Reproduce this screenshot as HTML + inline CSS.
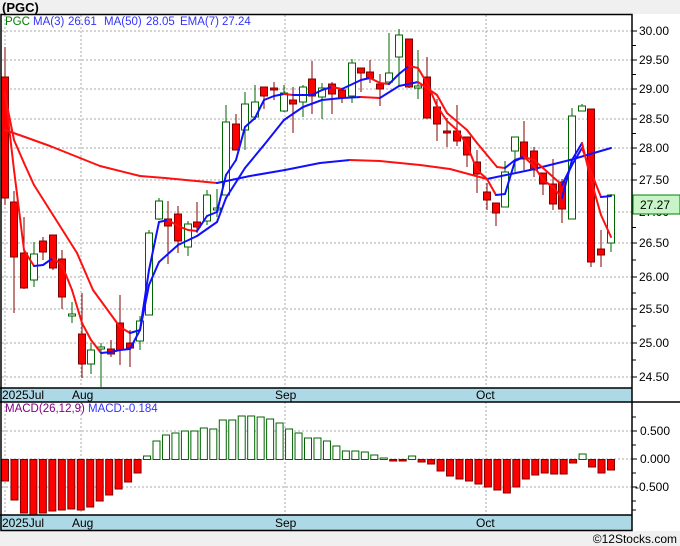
<!DOCTYPE html>
<html><head><meta charset="utf-8"><style>
body{margin:0;background:#f0f0f0;width:680px;height:546px;overflow:hidden;font-family:"Liberation Sans",sans-serif}
svg{position:absolute;left:0;top:0}
</style></head><body>
<svg id="s" width="680" height="546" xmlns="http://www.w3.org/2000/svg" font-family="Liberation Sans, sans-serif">
<rect x="0" y="0" width="680" height="546" fill="#f0f0f0"/>
<rect x="0" y="14" width="680" height="517" fill="#fff"/>
<text x="2" y="12" font-size="13" font-weight="bold" fill="#000">(PGC)</text>
<g id="grid" stroke="#aaa" stroke-dasharray="2,2" stroke-width="1"></g>
<rect x="0" y="388" width="632" height="14" fill="#add8e6"/>
<rect x="0" y="515" width="632" height="15" fill="#add8e6"/>
<g id="plot"></g>
<g stroke="#000" stroke-width="1.5" fill="none">
<rect x="1" y="14.5" width="631" height="516"/>
<line x1="0" y1="388" x2="632" y2="388"/><line x1="0" y1="402" x2="680" y2="402"/>
<line x1="0" y1="515" x2="632" y2="515"/>
</g>
<g font-size="12" fill="#000">
<text x="2" y="399">2025Jul</text><text x="72" y="399">Aug</text><text x="275" y="399">Sep</text><text x="476" y="399">Oct</text>
<text x="2" y="527">2025Jul</text><text x="72" y="527">Aug</text><text x="275" y="527">Sep</text><text x="476" y="527">Oct</text>
</g>
<g font-size="11.5" fill="#3333ff">
<text x="5" y="25" fill="#008000">PGC</text>
<text x="33" y="25">MA(3)</text><text x="68" y="25">26.61</text>
<text x="104" y="25">MA(50)</text><text x="146" y="25">28.05</text>
<text x="180" y="25">EMA(7)</text><text x="222" y="25">27.24</text>
<text x="5" y="412" fill="#800080">MACD(26,12,9)</text>
<text x="88" y="412">MACD:-0.184</text>
</g>
<g id="axis" font-size="12" fill="#000"></g>
<rect x="633" y="195" width="47" height="19" fill="#c8f5c8" stroke="#008000"/>
<text x="640" y="209" font-size="12" fill="#000">27.27</text>
<text x="677" y="543" font-size="12" text-anchor="end" fill="#000">©12Stocks.com</text>
</svg>
<script>
var NS="http://www.w3.org/2000/svg";
function el(p,t,a){var e=document.createElementNS(NS,t);for(var k in a)e.setAttribute(k,a[k]);p.appendChild(e);return e;}
var grid=document.getElementById('grid'),plot=document.getElementById('plot'),ax=document.getElementById('axis');
var pl=[[31,'30.00'],[60,'29.50'],[89,'29.00'],[119,'28.50'],[148,'28.00'],[180,'27.50'],[212,'27.00'],[243,'26.50'],[277,'26.00'],[309,'25.50'],[343,'25.00'],[377,'24.50']];
pl.forEach(function(p){el(grid,'line',{x1:2,y1:p[0],x2:632,y2:p[0]});el(ax,'line',{x1:632,y1:p[0],x2:637,y2:p[0],stroke:'#000'});var t=el(ax,'text',{x:639,y:p[0]+4});t.textContent=p[1];});
for(var i=0;i<pl.length-1;i++){var m=(pl[i][0]+pl[i+1][0])/2;el(ax,'line',{x1:632,y1:m,x2:636,y2:m,stroke:'#000'});}
[[431,'0.500'],[459,'0.000'],[487,'-0.500']].forEach(function(p){el(grid,'line',{x1:2,y1:p[0],x2:632,y2:p[0]});el(ax,'line',{x1:632,y1:p[0],x2:637,y2:p[0],stroke:'#000'});var t=el(ax,'text',{x:p[1][0]=='-'?635:640,y:p[0]+4});t.textContent=p[1];});
[417,445,473,501,510].forEach(function(y){el(ax,'line',{x1:632,y1:y,x2:636,y2:y,stroke:'#000'});});
[5,81,285,486].forEach(function(x){el(grid,'line',{x1:x,y1:15,x2:x,y2:388});el(grid,'line',{x1:x,y1:402,x2:x,y2:515});});
var C=[[5,77,198,47,205,0],[14,202,257,191,313,0],[24,253,288,217,289,0],[34,254,280,242,287,1],[43,241,252,237,260,0],[53,235,268,235,270,0],[62,259,297,250,309,0],[72,314,316,302,323,1],[82,334,364,293,378,0],[91,350,364,343,374,1],[101,347,349,343,387,1],[111,349,354,340,357,0],[120,323,350,295,365,0],[130,343,348,330,367,0],[140,321,341,316,350,1],[149,233,315,230,315,1],[159,201,219,198,220,1],[168,219,226,201,264,0],[178,214,241,206,253,0],[188,224,247,221,256,1],[197,222,227,202,233,0],[207,195,221,190,225,1],[217,208,210,189,217,1],[226,122,195,105,195,1],[236,124,150,114,150,0],[245,104,130,92,150,1],[255,102,117,85,120,1],[264,87,96,87,109,0],[274,88,90,82,100,0],[284,93,111,85,112,1],[293,100,104,87,133,0],[303,87,102,85,117,1],[312,79,96,61,114,0],[322,88,97,83,119,1],[332,84,94,82,114,0],[342,90,98,89,103,0],[352,63,96,59,103,1],[361,68,73,68,92,0],[370,72,78,60,83,0],[380,84,89,74,106,0],[389,73,82,33,82,1],[399,35,57,29,85,1],[409,39,87,39,88,0],[418,86,88,50,99,1],[427,77,118,57,118,0],[437,107,124,99,141,0],[447,131,133,118,147,0],[457,131,141,105,146,0],[467,137,155,137,167,0],[477,162,174,150,193,0],[487,192,200,183,210,0],[496,203,213,203,226,0],[505,172,207,161,207,1],[515,137,151,137,172,1],[524,142,159,121,170,0],[534,151,170,147,177,0],[543,173,184,173,195,0],[553,184,204,159,210,0],[562,182,209,179,223,0],[572,116,219,108,219,1],[582,106,111,104,111,1],[591,109,262,109,267,0],[601,249,255,230,267,0],[611,195,243,194,252,1]];
C.forEach(function(c){var col=c[5]?'#006400':'#800000';
el(plot,'line',{x1:c[0],y1:c[3],x2:c[0],y2:c[4],stroke:col,'stroke-width':1});
var h=Math.max(c[2]-c[1],1);
el(plot,'rect',{x:c[0]-3.5,y:c[1],width:7,height:h,fill:c[5]?'#fff':'#f00',stroke:col,'stroke-width':1});});
function line(pts){for(var i=1;i<pts.length;i++){var a=pts[i-1],b=pts[i];el(plot,'line',{x1:a[0],y1:a[1],x2:b[0],y2:b[1],stroke:b[1]<=a[1]?'#1010ff':'#ff1010','stroke-width':2,'stroke-linecap':'round'});}}
line([[5,130],[25,137],[50,146],[80,158],[100,166],[140,176],[165,178],[217,183],[250,176],[285,170],[320,163],[350,160],[380,161],[420,165],[450,169],[487,179],[530,170],[570,160],[611,148]]);
line([[5,95],[14,140],[24,163],[34,185],[53,215],[77,253],[93,290],[120,327],[130,333],[140,330],[149,285],[159,262],[178,245],[197,236],[217,222],[226,198],[245,168],[264,145],[284,120],[303,107],[322,100],[342,98],[361,97],[380,98],[399,86],[418,82],[437,95],[447,113],[467,130],[477,143],[497,167],[505,168],[515,160],[524,157],[534,160],[543,168],[562,185],[572,165],[582,148],[591,172],[601,197],[611,196]]);
line([[5,92],[14,170],[24,250],[34,266],[43,265],[53,258],[62,265],[72,290],[82,323],[91,340],[101,353],[111,352],[120,350],[130,349],[140,330],[149,270],[159,222],[168,220],[178,226],[188,230],[197,231],[207,216],[217,212],[226,175],[236,160],[245,127],[255,118],[264,100],[274,96],[284,94],[293,95],[303,95],[312,95],[322,90],[332,87],[342,89],[361,80],[370,78],[380,83],[389,84],[399,74],[409,66],[418,68],[428,85],[437,106],[447,121],[457,130],[467,145],[477,170],[487,179],[496,195],[505,194],[515,161],[524,157],[534,166],[543,180],[553,187],[562,198],[572,160],[582,143],[591,180],[601,215],[611,237]]);
var M=[481,500,513,515,513,511,510,509,510,507,501,495,489,482,473,456,441,435,433,431,431,428,429,420,420,416,416,417,419,423,429,433,438,438,441,446,451,451,452,455,458,461,461,456,462,464,471,476,479,481,484,487,490,493,487,479,475,473,474,474,463,454,467,473,470];
var z=459.5,n=M.length;
M.forEach(function(v,i){var x=5+i*(606/(n-1));var g=v<z;
var y=Math.min(v,z),h=Math.max(Math.abs(v-z),1);
el(plot,'rect',{x:x-3.5,y:y,width:7,height:h,fill:g?'#fff':'#f00',stroke:g?'#006400':'#800000','stroke-width':1});});
</script>
</body></html>
